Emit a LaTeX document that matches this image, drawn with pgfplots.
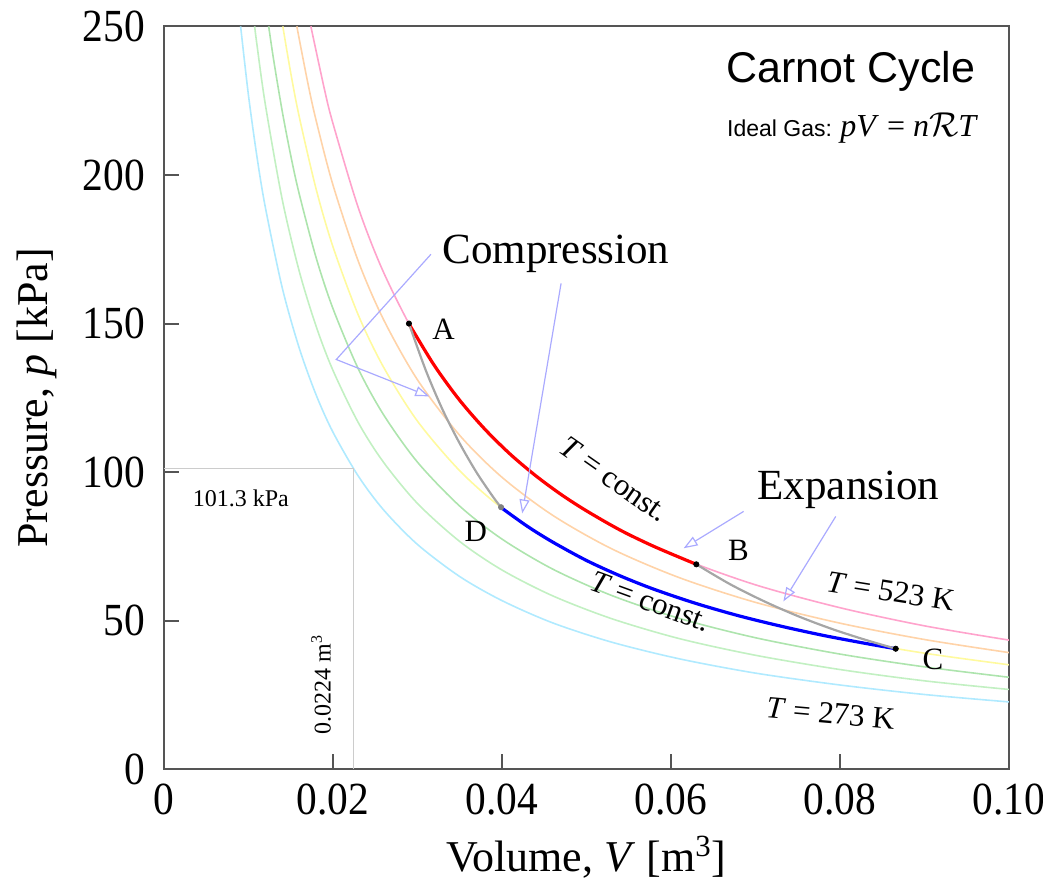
\documentclass[border={2.2pt 3.8pt -4.1pt -4.6pt}]{standalone}
\usepackage{pgfplots}
\pgfplotsset{compat=1.18}
\usetikzlibrary{arrows.meta}
\usepackage{fontspec}
\setmainfont{Liberation Serif}
\newfontfamily\helv{Liberation Sans}
\newfontfamily\tickfont[FakeStretch=0.9]{Liberation Serif}

\definecolor{iso273}{HTML}{B0EAFF}
\definecolor{iso323}{HTML}{C2F0C2}
\definecolor{iso373}{HTML}{ADE4AD}
\definecolor{iso423}{HTML}{FFFA9E}
\definecolor{iso473}{HTML}{FFD3A8}
\definecolor{iso523}{HTML}{FFA3CC}
\definecolor{arrowc}{HTML}{AAAAFF}
\definecolor{axisc}{HTML}{555555}

\newcommand{\bigsz}{\fontsize{21.5}{24}\selectfont}
\newcommand{\midsz}{\fontsize{15.5}{18}\selectfont}

\begin{document}
\begin{tikzpicture}
\begin{axis}[
    width=422.5pt, height=371.5pt, scale only axis,
    xmin=0, xmax=0.1, ymin=0, ymax=250,
    xtick={0,0.02,0.04,0.06,0.08,0.1},
    xticklabels={0,0.02,0.04,0.06,0.08,0.10},
    ytick={0,50,100,150,200,250},
    tick pos=left, tick align=inside,
    major tick length=7.5pt,
    axis line style={axisc, line width=1pt},
    every tick/.style={axisc, line width=1pt},
    ticklabel style={font=\tickfont\fontsize{23}{25}\selectfont},
    xticklabel style={inner xsep=3pt},
    yticklabel style={inner ysep=10pt},
    yticklabel shift=6pt,
    xticklabel shift=3.5pt,
    ylabel shift=6pt,
    xlabel shift=4pt,
    /pgf/number format/assume math mode=true,
    scaled x ticks=false,
    xlabel={Volume, \textit{V} [m\textsuperscript{3}]},
    ylabel={Pressure, \textit{p} [kPa]},
    label style={font=\fontsize{22}{24}\selectfont},
    clip=true,
]
% isotherms
\addplot[iso273, line width=0.8pt, smooth] coordinates {
(0.00908,250) (0.010,227.0) (0.011,206.4) (0.012,189.2) (0.014,162.1) (0.016,141.9)
(0.018,126.1) (0.020,113.5) (0.023,98.7) (0.026,87.3) (0.030,75.7) (0.035,64.9)
(0.040,56.8) (0.046,49.3) (0.053,42.8) (0.061,37.2) (0.070,32.4) (0.080,28.4)
(0.090,25.2) (0.100,22.7)};
\addplot[iso323, line width=0.8pt, smooth] coordinates {
(0.01074,250) (0.011,244.1) (0.012,223.8) (0.014,191.8) (0.016,167.8) (0.018,149.2)
(0.020,134.3) (0.023,116.7) (0.026,103.3) (0.030,89.5) (0.035,76.7) (0.040,67.1)
(0.046,58.4) (0.053,50.7) (0.061,44.0) (0.070,38.4) (0.080,33.6) (0.090,29.8)
(0.100,26.9)};
\addplot[iso373, line width=0.8pt, smooth] coordinates {
(0.01240,250) (0.013,238.5) (0.014,221.5) (0.015,206.7) (0.016,193.8) (0.018,172.3)
(0.020,155.1) (0.023,134.8) (0.026,119.3) (0.030,103.4) (0.035,88.6) (0.040,77.5)
(0.046,67.4) (0.053,58.5) (0.061,50.8) (0.070,44.3) (0.080,38.8) (0.090,34.5)
(0.100,31.0)};
\addplot[iso423, line width=0.8pt, smooth] coordinates {
(0.01407,250) (0.015,234.5) (0.016,219.8) (0.018,195.4) (0.020,175.9) (0.023,152.9)
(0.026,135.3) (0.030,117.2) (0.035,100.5) (0.040,87.9) (0.046,76.5) (0.053,66.4)
(0.061,57.7) (0.070,50.2) (0.080,44.0) (0.090,39.1) (0.100,35.2)};
\addplot[iso473, line width=0.8pt, smooth] coordinates {
(0.01573,250) (0.017,231.4) (0.018,218.5) (0.020,196.7) (0.023,171.0) (0.026,151.3)
(0.030,131.1) (0.035,112.4) (0.040,98.3) (0.046,85.5) (0.053,74.2) (0.061,64.5)
(0.070,56.2) (0.080,49.2) (0.090,43.7) (0.100,39.3)};
\addplot[iso523, line width=0.8pt, smooth] coordinates {
(0.01739,250) (0.019,228.8) (0.020,217.4) (0.023,189.0) (0.026,167.2) (0.030,144.9)
(0.035,124.2) (0.040,108.7) (0.046,94.5) (0.053,82.0) (0.061,71.3) (0.070,62.1)
(0.080,54.4) (0.090,48.3) (0.100,43.5)};

% 1 mol at STP
\addplot[black!20, line width=0.6pt] coordinates {(0,101.3) (0.0224,101.3) (0.0224,0)};

% hot isotherm A-B
\addplot[red, line width=1.6pt, smooth] coordinates {
(0.029,149.9) (0.032,135.9) (0.035,124.2) (0.038,114.4) (0.041,106.0) (0.044,98.8)
(0.047,92.5) (0.050,87.0) (0.054,80.5) (0.058,75.0) (0.063,69.0)};
% cold isotherm D-C
\addplot[blue, line width=1.6pt, smooth] coordinates {
(0.0399,88.1) (0.043,81.8) (0.046,76.5) (0.050,70.3) (0.054,65.1) (0.058,60.6)
(0.063,55.8) (0.068,51.7) (0.073,48.2) (0.078,45.1) (0.083,42.4) (0.0866,40.6)};
% adiabats
\addplot[black!35, line width=1.1pt, smooth] coordinates {
(0.029,150) (0.031,134.2) (0.033,120.9) (0.035,109.7) (0.037,99.9) (0.039,91.5)
(0.0399,88.2)};
\addplot[black!35, line width=1.1pt, smooth] coordinates {
(0.063,69.0) (0.067,62.3) (0.071,56.6) (0.075,51.6) (0.079,47.3) (0.083,43.6)
(0.0866,40.6)};

% state points
\addplot[only marks, mark=*, mark size=1.3pt, black] coordinates {
(0.029,150) (0.063,69.0) (0.0866,40.6)};
\addplot[only marks, mark=*, mark size=1.3pt, black!50] coordinates {(0.0399,88.2)};

% annotation arrows
\addplot[arrowc, line width=0.6pt, -{Triangle[open,length=7pt,width=5pt]}] coordinates {
(0.0316,173.3) (0.0204,137.9) (0.0314,125.5)};
\addplot[arrowc, line width=0.6pt, -{Triangle[open,length=7pt,width=5pt]}] coordinates {
(0.0470,163.5) (0.0424,86.1)};
\addplot[arrowc, line width=0.6pt, -{Triangle[open,length=7pt,width=5pt]}] coordinates {
(0.0686,86.8) (0.0615,74.4)};
\addplot[arrowc, line width=0.6pt, -{Triangle[open,length=7pt,width=5pt]}] coordinates {
(0.0795,85.1) (0.0733,56.5)};

% labels
\node[font=\bigsz] at (axis cs:0.0464,173.3) {Compression};
\node[font=\bigsz] at (axis cs:0.0810,94.0) {Expansion};
\node[font=\midsz] at (axis cs:0.0331,148) {A};
\node[font=\midsz] at (axis cs:0.0680,73.7) {B};
\node[font=\midsz] at (axis cs:0.0910,37.0) {C};
\node[font=\midsz] at (axis cs:0.0369,80.1) {D};
\node[font=\midsz, rotate=-35] at (axis cs:0.0533,97.6) {\textit{T} = const.};
\node[font=\midsz, rotate=-20] at (axis cs:0.0576,56.5) {\textit{T} = const.};
\node[font=\midsz, rotate=-9] at (axis cs:0.0860,59.9) {\textit{T} = 523 K};
\node[font=\midsz, rotate=-5] at (axis cs:0.0789,18.8) {\textit{T} = 273 K};
\node[font=\fontsize{12}{14}\selectfont] at (axis cs:0.0091,91.2) {101.3 kPa};
\node[font=\fontsize{12}{14}\selectfont, rotate=90] at (axis cs:0.0186,28.6) {0.0224 m\textsuperscript{3}};
\node[font=\helv\fontsize{21.5}{24}\selectfont] at (axis cs:0.0813,234.9) {Carnot Cycle};
\node[font=\fontsize{16}{18}\selectfont] at (axis cs:0.0815,215.7)
  {{\helv\fontsize{11.5}{13}\selectfont Ideal Gas: }\textit{pV} = \textit{n}$\mathcal{R}$\textit{T}};
\end{axis}
\path (current bounding box.west) ++(-3pt,0);
\end{tikzpicture}
\end{document}
